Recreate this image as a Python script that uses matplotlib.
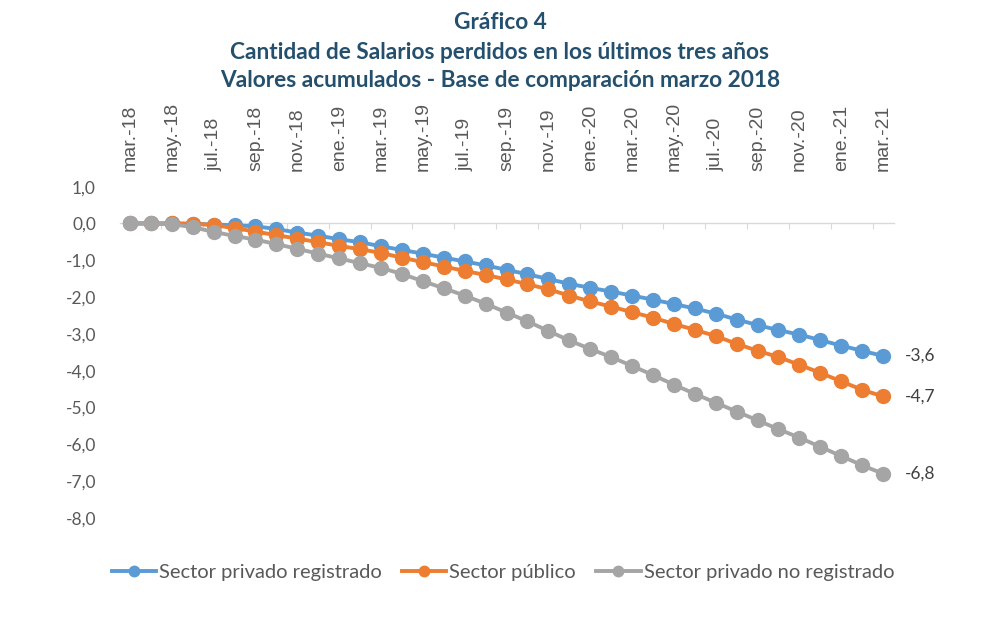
import matplotlib.pyplot as plt
import numpy as np

# monthly categories mar-18 .. mar-21, label shown every two months
meses = ['mar.', 'abr.', 'may.', 'jun.', 'jul.', 'ago.', 'sep.', 'oct.', 'nov.', 'dic.', 'ene.', 'feb.']
periodos = []
for k in range(37):
    m = meses[k % 12]
    anio = 18 + (k + 2) // 12
    periodos.append(f'{m}-{anio}')

privado_registrado = [0.0, 0.0, 0.0, -0.01, -0.03, -0.05, -0.08, -0.15, -0.25, -0.33,
                      -0.43, -0.51, -0.62, -0.72, -0.82, -0.93, -1.03, -1.14, -1.26, -1.38,
                      -1.51, -1.64, -1.75, -1.85, -1.96, -2.07, -2.19, -2.31, -2.45, -2.61,
                      -2.76, -2.90, -3.02, -3.17, -3.32, -3.46, -3.60]
sector_publico = [0.0, 0.0, 0.0, -0.01, -0.04, -0.13, -0.22, -0.32, -0.41, -0.51,
                  -0.61, -0.70, -0.80, -0.93, -1.05, -1.17, -1.29, -1.40, -1.52, -1.65,
                  -1.79, -1.96, -2.12, -2.26, -2.41, -2.56, -2.73, -2.89, -3.06, -3.27,
                  -3.46, -3.63, -3.84, -4.06, -4.29, -4.52, -4.70]
privado_no_registrado = [0.0, 0.0, -0.02, -0.10, -0.23, -0.34, -0.44, -0.56, -0.69, -0.82,
                         -0.95, -1.08, -1.21, -1.37, -1.57, -1.76, -1.96, -2.18, -2.42, -2.66,
                         -2.92, -3.18, -3.41, -3.63, -3.87, -4.12, -4.38, -4.63, -4.87, -5.11,
                         -5.35, -5.59, -5.82, -6.07, -6.32, -6.57, -6.80]

series = [
    ('Sector privado registrado', privado_registrado, '#5B9BD5'),
    ('Sector público', sector_publico, '#ED7D31'),
    ('Sector privado no registrado', privado_no_registrado, '#A5A5A5'),
]

plt.rcParams['font.family'] = ['Lato', 'DejaVu Sans']

fig = plt.figure(figsize=(10, 6.18), dpi=100)
ax = fig.add_axes([0.1195, 0.162, 0.774, 0.536])

x = np.arange(len(periodos))
for nombre, valores, color in series:
    ax.plot(x, valores, color=color, lw=2.8, marker='o', ms=10,
            markeredgecolor=color, label=nombre, zorder=3)
    # end value label
    ax.annotate(f'{valores[-1]:.1f}'.replace('.', ','), (x[-1], valores[-1]),
                xytext=(16, 0), textcoords='offset points', va='center', ha='left',
                fontsize=12.5, color='#404040')

ax.set_xlim(-0.5, len(periodos) - 0.5)
ax.set_ylim(-8, 1)
ax.set_yticks(np.arange(-8, 1.5, 1))
ax.set_yticklabels([f'{v:.1f}'.replace('.', ',') for v in np.arange(-8, 1.5, 1)])
ax.tick_params(axis='y', length=0, pad=17, labelsize=12.5, labelcolor='#595959')

# category axis crossing at zero, tick marks between categories
for s in ['top', 'right', 'left']:
    ax.spines[s].set_visible(False)
ax.spines['bottom'].set_position(('data', 0))
ax.spines['bottom'].set_color('#D9D9D9')
ax.spines['bottom'].set_linewidth(1)
ax.set_xticks(np.arange(1.5, len(periodos) - 1, 2))
ax.tick_params(axis='x', direction='out', length=4, color='#D9D9D9',
               labelbottom=False)

# labels shown above the plot
top = ax.secondary_xaxis('top')
top.set_xticks(x[::2])
top.set_xticklabels(periodos[::2], rotation=90, fontsize=14,
                    family=['Liberation Sans', 'DejaVu Sans'])
top.tick_params(length=0, pad=11, labelcolor='#595959')
top.spines['top'].set_visible(False)

titulo = ['Gráfico 4',
          'Cantidad de Salarios perdidos en los últimos tres años',
          'Valores acumulados - Base de comparación marzo 2018']
for fila, texto in zip([0.964, 0.915, 0.869], titulo):
    fig.text(0.5, fila, texto, ha='center', va='center',
             fontsize=16.3, fontweight='bold', color='#24506E')

leg = fig.legend(loc='center', bbox_to_anchor=(0.503, 0.074), ncol=3, frameon=False,
                 fontsize=14.5, handlelength=2.2, handletextpad=0.15, columnspacing=1.0,
                 markerscale=0.75)
for t in leg.get_texts():
    t.set_color('#595959')

fig.savefig('out.png', dpi=100, facecolor='white')
